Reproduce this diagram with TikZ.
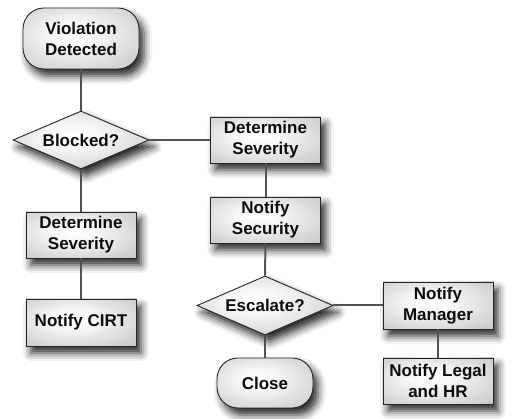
\documentclass[tikz,border=0pt]{standalone}
\usepackage{fontspec}
\setmainfont{Liberation Sans}
\usetikzlibrary{shapes.geometric,shadows.blur}
\pgfdeclareradialshading{softrad}{\pgfpoint{-4bp}{4bp}}{color(0bp)=(white); color(10bp)=(white!97!black); color(50bp)=(black!30); color(80bp)=(black!36)}
\tikzset{
  base/.style={draw=black!85, line width=0.9pt, shading=softrad, text=black!95,
    font=\fontsize{17}{21}\selectfont\bfseries, align=center, inner sep=0pt,
    blur shadow={shadow xshift=5pt, shadow yshift=-7pt, shadow blur radius=8pt, shadow opacity=85}},
  procbox/.style={base, rectangle, minimum width=110pt, minimum height=46pt},
  termbox/.style={base, rectangle, rounded corners=21pt},
  decbox/.style={base, diamond, aspect=2.3, minimum width=136pt, minimum height=58pt},
  link/.style={draw=black!68, line width=2pt}
}
\begin{document}
\begin{tikzpicture}[x=1pt,y=-1pt]
\useasboundingbox (0,0) rectangle (515,419);
\node[termbox, minimum width=116pt, minimum height=61pt] (viol) at (81,38.5) {Violation\\Detected};
\node[decbox] (blocked) at (81,140) {Blocked?};
\node[procbox] (dsl) at (81,235) {Determine\\Severity};
\node[procbox, minimum height=47pt] (cirt) at (81,322.5) {Notify CIRT};
\node[procbox] (dsr) at (265.5,140) {Determine\\Severity};
\node[procbox] (nsec) at (265.5,220) {Notify\\Security};
\node[decbox, minimum height=59pt] (esc) at (265,305.5) {Escalate?};
\node[termbox, minimum width=96pt, minimum height=50pt] (close) at (265,383) {Close};
\node[procbox, minimum height=47pt] (mgr) at (438,305.5) {Notify\\Manager};
\node[procbox] (legal) at (438,381) {Notify Legal\\and HR};
\draw[link] (viol.south) -- (blocked.north);
\draw[link] (blocked.south) -- (dsl.north);
\draw[link] (dsl.south) -- (cirt.north);
\draw[link] (blocked.east) -- (dsr.west);
\draw[link] (dsr.south) -- (nsec.north);
\draw[link] (nsec.south) -- (esc.north);
\draw[link] (esc.south) -- (close.north);
\draw[link] (esc.east) -- (mgr.west);
\draw[link] (mgr.south) -- (legal.north);
\end{tikzpicture}
\end{document}
